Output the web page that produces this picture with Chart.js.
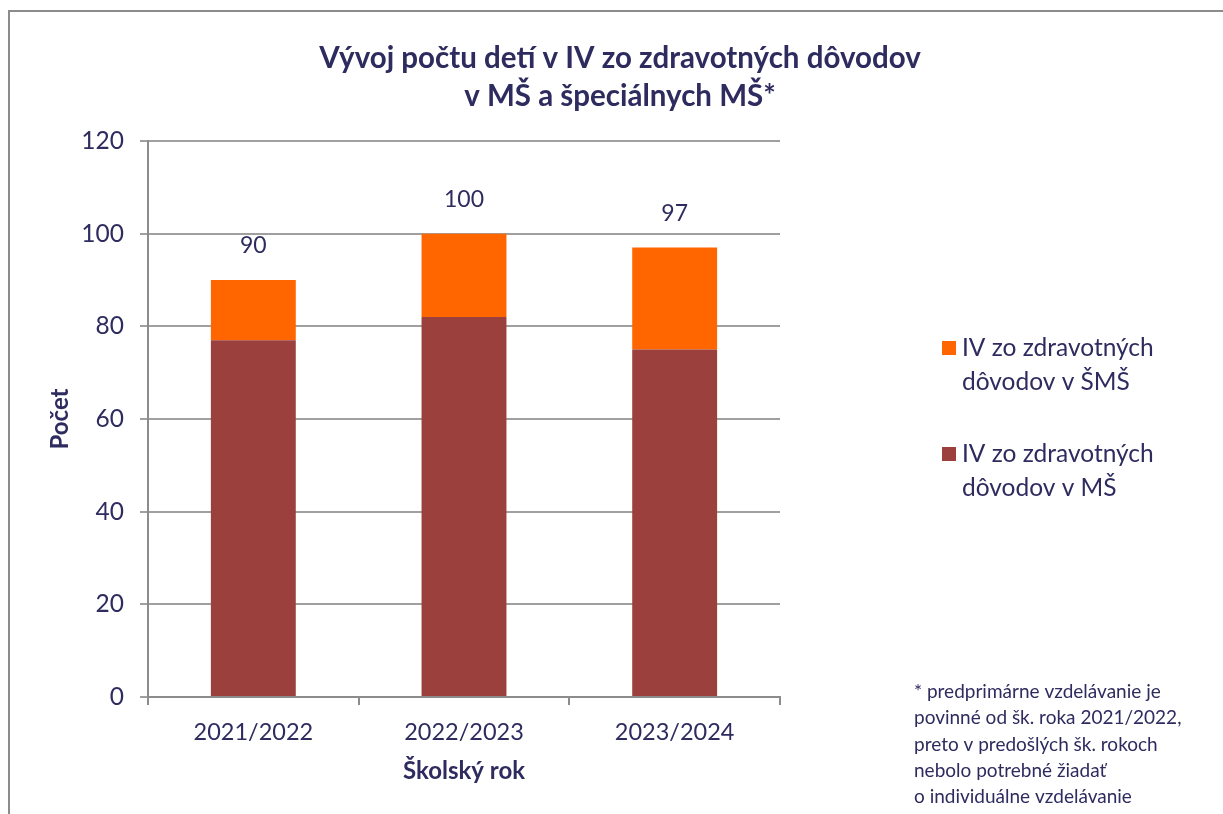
<!DOCTYPE html>
<html>
<head>
<meta charset="utf-8">
<script src="https://cdn.jsdelivr.net/npm/chart.js@4.4.0/dist/chart.umd.min.js"></script>
<style>
  html, body { margin: 0; padding: 0; background: #fff; overflow: hidden; }
  #ramec {
    position: absolute; left: 8px; top: 10px; width: 1240px; height: 830px;
    border-left: 2px solid #8c8c8c; border-top: 2px solid #8c8c8c;
  }
  #graf { position: absolute; left: 0; top: 0; }
</style>
</head>
<body>
<div id="ramec"></div>
<canvas id="graf" width="1223" height="814"></canvas>
<script>
// Dáta grafu
const roky = ['2021/2022', '2022/2023', '2023/2024'];
const ivMS = [77, 82, 75];
const ivSMS = [13, 18, 22];
const nazvySerii = [['IV zo zdravotných', 'dôvodov v MŠ'], ['IV zo zdravotných', 'dôvodov v ŠMŠ']];
const titulok = ['Vývoj počtu detí v IV zo zdravotných dôvodov', 'v MŠ a špeciálnych MŠ*'];
const poznamka = ['* predprimárne vzdelávanie je', 'povinné od šk. roka 2021/2022,',
  'preto v predošlých šk. rokoch', 'nebolo potrebné žiadať', 'o individuálne vzdelávanie'];

const farbaTextu = '#2e2b5f';
const pismo = 'Lato, "Open Sans", sans-serif';

// Titulok, legenda, poznámka a súčty nad stĺpcami
const kreslenie = {
  id: 'kreslenie',
  afterDraw(chart) {
    const ctx = chart.ctx;
    ctx.save();
    ctx.fillStyle = farbaTextu;
    ctx.textBaseline = 'middle';

    // titulok
    ctx.textAlign = 'center';
    ctx.font = 'bold 29.5px ' + pismo;
    titulok.forEach((t, i) => ctx.fillText(t, 620, 58 + i * 38));

    // súčty
    ctx.font = '23px ' + pismo;
    const meta = chart.getDatasetMeta(1);
    meta.data.forEach((bar, i) => {
      const spolu = ivMS[i] + ivSMS[i];
      ctx.fillText(String(spolu), bar.x, bar.y - 34);
    });

    // legenda (ŠMŠ hore)
    ctx.textAlign = 'left';
    ctx.font = '24.5px ' + pismo;
    const poradie = [1, 0];
    poradie.forEach((d, k) => {
      const ds = chart.data.datasets[d];
      const y0 = 348 + k * 106;
      ctx.fillStyle = ds.backgroundColor;
      ctx.fillRect(942, y0 - 7, 14, 14);
      ctx.fillStyle = farbaTextu;
      nazvySerii[d].forEach((r, j) => ctx.fillText(r, 962, y0 + j * 34));
    });

    // poznámka
    ctx.font = '19px ' + pismo;
    poznamka.forEach((r, i) => ctx.fillText(r, 914, 692 + i * 26.3));
    ctx.restore();
  }
};

new Chart(document.getElementById('graf'), {
  type: 'bar',
  data: {
    labels: roky,
    datasets: [
      {
        label: 'IV zo zdravotných dôvodov v MŠ',
        data: ivMS,
        backgroundColor: '#9c403e',
        categoryPercentage: 1,
        barPercentage: 0.403
      },
      {
        label: 'IV zo zdravotných dôvodov v ŠMŠ',
        data: ivSMS,
        backgroundColor: '#ff6600',
        categoryPercentage: 1,
        barPercentage: 0.403
      }
    ]
  },
  options: {
    responsive: false,
    animation: false,
    layout: { padding: { left: 8, top: 141, right: 443, bottom: 0 } },
    plugins: {
      legend: { display: false },
      tooltip: { enabled: false }
    },
    scales: {
      x: {
        stacked: true,
        afterFit(s) { s.height = 117; },
        grid: { drawOnChartArea: false, drawTicks: true, tickLength: 8, color: '#8c8c8c', lineWidth: 2 },
        border: { color: '#8c8c8c', width: 2 },
        ticks: { color: farbaTextu, font: { family: pismo, size: 23.5 }, padding: 13 },
        title: {
          display: true, text: 'Školský rok', color: farbaTextu,
          font: { family: pismo, size: 24, weight: 'bold' }, padding: { top: 0, bottom: 28 }
        }
      },
      y: {
        stacked: true,
        min: 0, max: 120,
        afterFit(s) { s.width = 140; },
        grid: { color: '#a0a0a0', lineWidth: 2, tickLength: 8 },
        border: { color: '#8c8c8c', width: 2 },
        ticks: { stepSize: 20, color: farbaTextu, font: { family: pismo, size: 24.5 }, padding: 16 },
        title: {
          display: true, text: 'Počet', color: farbaTextu,
          font: { family: pismo, size: 24, weight: 'bold' }, padding: { top: 38, bottom: 0 }
        }
      }
    }
  },
  plugins: [kreslenie]
});
</script>
</body>
</html>
